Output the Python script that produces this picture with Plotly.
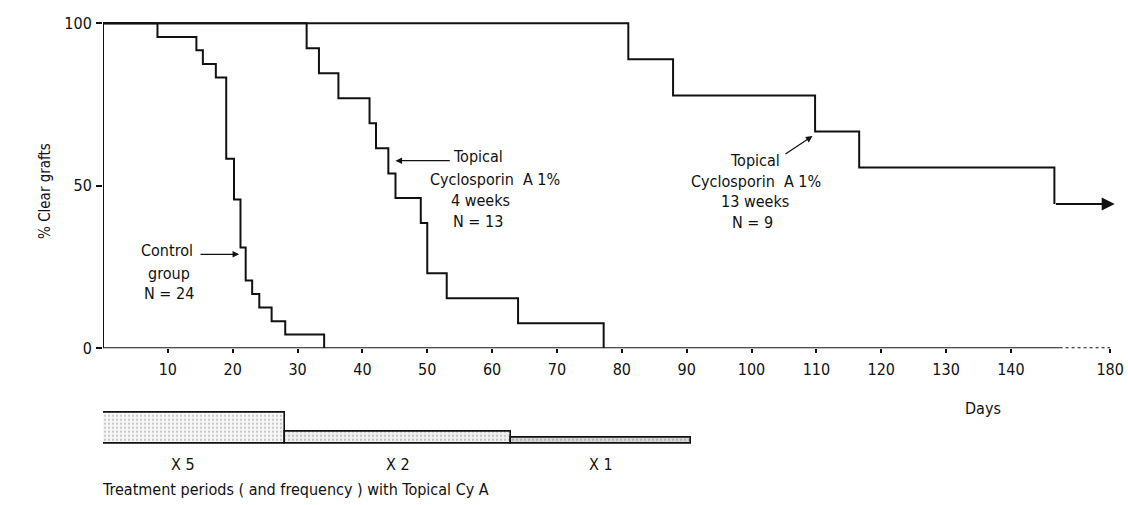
import plotly.graph_objects as go

# ---------------- data ----------------
control_days = [0, 8.4, 14.4, 15.4, 17.4, 19.0, 20.2, 21.2, 22.0, 23.0, 24.1, 26.0, 28.1, 34.1]
control_pct = [100, 95.8, 91.7, 87.5, 83.3, 58.3, 45.8, 31.0, 20.8, 16.7, 12.5, 8.3, 4.2, 0]

cya4_days = [0, 31.4, 33.3, 36.3, 41.1, 42.1, 44.0, 45.1, 49.0, 50.0, 53.0, 64.0, 77.2]
cya4_pct = [100, 92.3, 84.6, 76.9, 69.2, 61.5, 53.8, 46.2, 38.5, 23.1, 15.4, 7.7, 0]

cya13_days = [0, 81.0, 87.9, 109.8, 116.6, 146.7]
cya13_pct = [100, 88.9, 77.8, 66.7, 55.6, 44.4]
cya13_followup_end = 156.0          # arrow: still clear at end of follow-up

x_tick_vals = [10, 20, 30, 40, 50, 60, 70, 80, 90, 100, 110, 120, 130, 140, 155.3]
x_tick_text = ["10", "20", "30", "40", "50", "60", "70", "80", "90", "100",
               "110", "120", "130", "140", "180"]
axis_break_start = 147.5
axis_end = 155.3
y_tick_vals = [0, 50, 100]

treat_start = [0, 28.1, 62.9]
treat_end = [28.1, 62.9, 90.7]
treat_freq = [5, 2, 1]
treat_labels = ["X 5", "X 2", "X 1"]
treat_fill = ["#f6f6f6", "#f0f0f0", "#d6d6d6"]

FONT = "Liberation Sans Narrow, DejaVu Sans Condensed, Arial Narrow, sans-serif"
BLACK = "#111111"

fig = go.Figure()

for xs, ys in [(control_days, control_pct), (cya4_days, cya4_pct), (cya13_days, cya13_pct)]:
    fig.add_trace(go.Scatter(x=xs, y=ys, mode="lines", line=dict(color=BLACK, width=2, shape="hv"),
                             showlegend=False, hoverinfo="skip", xaxis="x", yaxis="y"))

# treatment periods bars
fig.add_trace(go.Bar(
    x=[(s + e) / 2 for s, e in zip(treat_start, treat_end)],
    width=[e - s for s, e in zip(treat_start, treat_end)],
    y=treat_freq, base=0,
    marker=dict(color=treat_fill, line=dict(color=BLACK, width=1.6),
                pattern=dict(shape=".", fillmode="overlay", fgcolor="#b5b5b5", size=4, solidity=0.15)),
    xaxis="x2", yaxis="y2", showlegend=False, hoverinfo="skip"))

# ---------------- layout ----------------
fig.update_layout(
    width=1128, height=505,
    margin=dict(l=103, r=4, t=10, b=10),
    paper_bgcolor="white", plot_bgcolor="white",
    font=dict(family=FONT, size=16, color=BLACK),
    bargap=0,
    xaxis=dict(range=[0, 156.2], tickvals=x_tick_vals, ticktext=x_tick_text,
               ticks="outside", ticklen=4, tickwidth=1.5, tickcolor=BLACK,
               showline=False, zeroline=False, showgrid=False,
               ticklabelstandoff=3, ticklabeloverflow="allow",
               tickfont=dict(family=FONT, size=16),
               anchor="y", domain=[0, 1]),
    yaxis=dict(range=[0, 102.5], domain=[0.2969, 0.9893], tickvals=y_tick_vals,
               ticks="outside", ticklen=6, tickwidth=1.5, tickcolor=BLACK,
               showline=False, zeroline=False, showgrid=False,
               ticklabelstandoff=1, tickfont=dict(family=FONT, size=16), anchor="x"),
    xaxis2=dict(matches="x", visible=False, anchor="y2", domain=[0, 1]),
    yaxis2=dict(range=[0, 5.5], domain=[0.0979, 0.1691], visible=False, anchor="x2"),
)

# axes lines (solid, then dotted past the break)
fig.add_shape(type="line", xref="x", yref="y", x0=0, x1=axis_break_start, y0=0, y1=0,
              line=dict(color=BLACK, width=2), layer="above")
fig.add_shape(type="line", xref="x", yref="y", x0=axis_break_start, x1=axis_end, y0=0, y1=0,
              line=dict(color=BLACK, width=2, dash="dot"), layer="above")
fig.add_shape(type="line", xref="x", yref="y", x0=0, x1=0, y0=0, y1=100,
              line=dict(color=BLACK, width=2), layer="above")

# end-of-follow-up arrow on 13-week curve
fig.add_annotation(x=cya13_followup_end, y=cya13_pct[-1], ax=cya13_days[-1], ay=cya13_pct[-1],
                   xref="x", yref="y", axref="x", ayref="y", text="", showarrow=True,
                   arrowhead=2, arrowsize=1.3, arrowwidth=2, arrowcolor=BLACK)

def txt(x, y, s, xref="x", yref="y", xanchor="center", size=16):
    fig.add_annotation(x=x, y=y, xref=xref, yref=yref, text=s, showarrow=False,
                       xanchor=xanchor, yanchor="middle", font=dict(family=FONT, size=size, color=BLACK))

def arrow(x, y, ax, ay):
    fig.add_annotation(x=x, y=y, ax=ax, ay=ay, xref="x", yref="y", axref="x", ayref="y",
                       text="", showarrow=True, arrowhead=2, arrowsize=1.1, arrowwidth=1.2,
                       arrowcolor=BLACK)

# Control group label
txt(9.8, 30.2, "Control")
txt(10.2, 23.1, "group")
txt(10.2, 16.9, "N = 24")
arrow(21.0, 28.9, 14.8, 28.9)

# 4-week label
txt(57.8, 58.9, "Topical")
txt(60.4, 51.8, "Cyclosporin  A 1%")
txt(58.2, 45.6, "4 weeks")
txt(57.8, 39.0, "N = 13")
arrow(45.1, 57.7, 53.7, 57.7)

# 13-week label
txt(100.5, 57.9, "Topical")
txt(100.7, 51.3, "Cyclosporin  A 1%")
txt(100.5, 45.0, "13 weeks")
txt(100.1, 38.6, "N = 9")
arrow(109.4, 65.3, 105.0, 59.5)

# axis titles
fig.add_annotation(x=-0.0578, y=0.6247, xref="paper", yref="paper", text="% Clear grafts",
                   textangle=-90, showarrow=False, xanchor="center", yanchor="middle",
                   font=dict(family=FONT, size=15, color=BLACK))
txt(135.7, 0.1711, "Days", yref="paper")

# treatment labels
for s, e, lab, dx in zip(treat_start, treat_end, treat_labels, [-1.7, 0, 0]):
    txt((s + e) / 2 + dx, 0.0557, lab, yref="paper")
txt(-0.003, 0.0041, "Treatment periods ( and frequency ) with Topical Cy A", xref="paper",
    yref="paper", xanchor="left")

fig.write_html("out.html", config={"displayModeBar": False},
               post_script="document.body.style.margin='0';document.body.style.overflow='hidden';")
